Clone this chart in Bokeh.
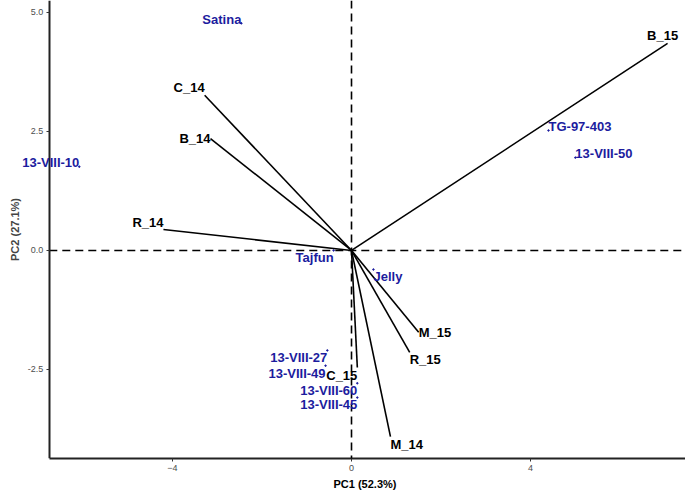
from bokeh.plotting import figure
from bokeh.models import (ColumnDataSource, Range1d, Span, FixedTicker, CustomJSTickFormatter,
                          Label, LinearAxis, Title)
from bokeh.embed import file_html
from bokeh.resources import INLINE

# Variable loadings (arrows)
var_names = ["C_14", "B_14", "R_14", "B_15", "M_15", "R_15", "C_15", "M_14"]
var_pc1 = [-3.28, -3.15, -4.20, 7.06, 1.50, 1.30, 0.13, 0.87]
var_pc2 = [3.26, 2.35, 0.44, 4.35, -1.72, -2.14, -2.46, -3.91]
var_align = ["right", "right", "right", "center", "left", "left", "right", "left"]
var_base = ["bottom", "middle", "bottom", "bottom", "middle", "top", "top", "top"]
var_dx = [0, 0, 0, -5, 0, 0, 0, 0]

# Genotype scores
gen_names = ["Satina", "13-VIII-10", "TG-97-403", "13-VIII-50", "Tajfun", "Jelly",
             "13-VIII-27", "13-VIII-49", "13-VIII-60", "13-VIII-45"]
gen_pc1 = [-2.46, -6.08, 4.40, 5.00, -0.40, 0.49, -0.54, -0.58, 0.13, 0.13]
gen_pc2 = [4.77, 1.76, 2.52, 1.95, 0.00, -0.40, -2.10, -2.42, -2.79, -3.09]
gen_align = ["right", "right", "left", "left", "right", "left", "right", "right", "right", "right"]
gen_base = ["middle", "middle", "middle", "middle", "top", "top",
            "top", "top", "top", "top"]
gen_lift = [4, 4, 4, 4, 0, 0, 0, 0, 0, 1]

x_ticks = [-4, 0, 4]
y_ticks = [-2.5, 0.0, 2.5, 5.0]

# panel extent (axis positions)
X_LO, X_HI = -6.75, 7.46
Y_LO, Y_HI = -4.37, 5.25

FONT = "Liberation Sans"
BLUE = "#1c1c9e"

p = figure(width=685, height=497, output_backend="svg", toolbar_location=None,
           x_range=Range1d(-7.84, X_HI), y_range=Range1d(Y_LO, Y_HI),
           y_axis_location=None,
           min_border_left=0, min_border_right=0, min_border_top=0, min_border_bottom=39)
p.outline_line_color = None
p.xgrid.visible = False
p.ygrid.visible = False
p.background_fill_color = "white"

yax = LinearAxis(fixed_location=X_LO)
p.add_layout(yax, "left")

ref = ColumnDataSource(dict(x0=[X_LO], y0=[0.0], x1=[X_HI], y1=[0.0]))
p.segment(x0="x0", y0="y0", x1="x1", y1="y1", source=ref, line_color="black",
          line_width=1.6, line_dash="8 5")
p.add_layout(Span(location=0, dimension="height", line_color="black", line_width=1.6, line_dash="8 5"))

vsrc = ColumnDataSource(dict(x0=[0.0] * len(var_names), y0=[0.0] * len(var_names),
                             x=var_pc1, y=var_pc2))
p.segment(x0="x0", y0="y0", x1="x", y1="y", source=vsrc, line_color="black", line_width=1.6)
for nm, x, y, al, bl, dx in zip(var_names, var_pc1, var_pc2, var_align, var_base, var_dx):
    p.add_layout(Label(x=x, y=y, text=nm, text_align=al, text_baseline=bl, level="overlay",
                       x_offset=dx,
                       text_font=FONT, text_font_style="bold", text_font_size="13px",
                       text_color="black"))

gsrc = ColumnDataSource(dict(x=gen_pc1, y=gen_pc2))
p.scatter(x="x", y="y", source=gsrc, size=1.5, color=BLUE)
for nm, x, y, al, bl, lf in zip(gen_names, gen_pc1, gen_pc2, gen_align, gen_base, gen_lift):
    p.add_layout(Label(x=x, y=y, text=nm, text_align=al, text_baseline=bl, level="overlay",
                       y_offset=lf,
                       text_font=FONT, text_font_style="bold", text_font_size="13px",
                       text_color=BLUE))

for ax in (p.xaxis[0], yax):
    ax.axis_line_width = 2
    ax.axis_line_color = "#222222"
    ax.major_tick_line_color = "#333333"
    ax.major_tick_out = 3
    ax.major_tick_in = 0
    ax.minor_tick_line_color = None
    ax.major_label_text_font = FONT
    ax.major_label_text_font_size = "9px"
    ax.major_label_text_color = "#4d4d4d"
    ax.major_label_standoff = 3
    ax.axis_label_text_font = FONT
    ax.axis_label_text_font_style = "bold"
    ax.axis_label_text_font_size = "11px"
    ax.axis_label_standoff = 4

p.xaxis.bounds = (X_LO, X_HI)
p.xaxis.ticker = FixedTicker(ticks=x_ticks)
yax.ticker = FixedTicker(ticks=y_ticks)
yax.formatter = CustomJSTickFormatter(code="return tick.toFixed(1);")
yax.major_label_orientation = "horizontal"
yax.axis_label = "PC2 (27.1%)"

# x-axis title, centred under the panel (which starts at the y axis)
p.add_layout(Title(text="PC1 (52.3%)", align="left", offset=333, standoff=4,
                   text_font=FONT, text_font_style="bold", text_font_size="11px",
                   text_color="black"), "below")

open("out.html", "w").write(file_html(p, INLINE))
